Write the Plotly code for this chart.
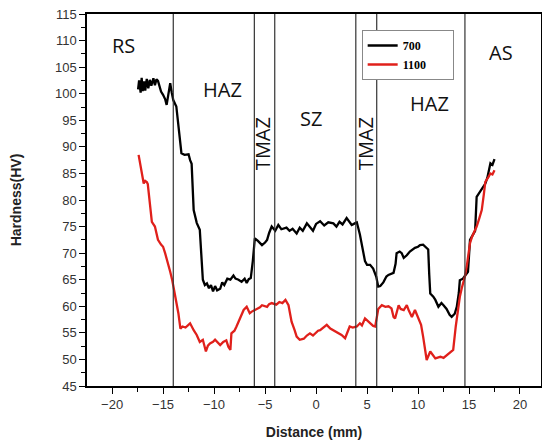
import plotly.graph_objects as go

# Series 700 (black)
x700 = [-17.45, -17.35, -17.2, -17.1, -17.0, -16.85, -16.75, -16.6, -16.45, -16.3, -16.15, -15.95,
        -15.8, -15.65, -15.5, -15.35, -15.2, -15.0, -14.8, -14.65, -14.5, -14.3, -14.15, -14.0,
        -13.7, -13.5, -13.3, -13.2, -12.9, -12.5, -12.35, -12.2, -12.0, -11.7, -11.4, -11.25,
        -11.1, -10.9, -10.7, -10.5, -10.3, -10.1, -9.9, -9.7, -9.4, -9.2, -9.0, -8.7, -8.4, -8.1,
        -7.9, -7.6, -7.3, -7.0, -6.8, -6.6, -6.4, -6.2, -6.0, -5.7, -5.3, -5.0, -4.8, -4.6,
        -4.35, -4.0, -3.7, -3.4, -3.2, -2.9, -2.6, -2.3, -1.9, -1.6, -1.3, -0.9, -0.6, -0.3,
        0.0, 0.4, 0.8, 1.2, 1.7, 2.0, 2.3, 2.6, 3.0, 3.3, 3.5, 3.8, 4.0, 4.3, 4.5, 4.8, 5.0,
        5.3, 5.6, 5.9, 6.1, 6.3, 6.6, 6.9, 7.1, 7.4, 7.6, 7.8, 7.9, 8.2, 8.4, 8.6, 8.9, 9.2,
        9.5, 9.7, 10.0, 10.2, 10.5, 10.7, 11.0, 11.1, 11.2, 11.5, 11.7, 12.0, 12.3, 12.5, 12.8,
        13.1, 13.3, 13.6, 13.8, 14.0, 14.1, 14.4, 14.6, 14.9, 15.1, 15.4, 15.6, 15.75, 16.0,
        16.25, 16.6, 16.8, 17.1, 17.3, 17.5]
y700 = [100.8, 102.5, 100.2, 103.0, 100.5, 102.3, 100.6, 102.8, 101.0, 102.6, 101.5, 102.9,
        101.6, 102.7, 102.4, 101.2, 100.4, 99.8, 99.0, 97.9, 99.5, 102.0, 100.2, 98.8,
        97.6, 94.5, 90.7, 88.8, 88.5, 88.6, 87.5, 86.8, 78.1, 75.7, 74.4, 69.0,
        65.0, 64.0, 64.3, 63.4, 64.0, 62.8, 63.8, 63.0, 63.3, 64.5, 64.0, 65.2, 65.0, 65.8,
        65.2, 65.0, 64.6, 65.2, 64.4, 65.1, 65.3, 68.5, 72.8, 72.3, 71.5, 72.0, 72.5, 73.8,
        75.0, 74.2, 75.3, 74.5, 74.6, 74.8, 74.2, 74.6, 73.7, 74.8, 74.2, 75.6, 74.9, 74.2,
        75.5, 76.0, 75.2, 75.8, 75.6, 75.0, 75.9, 75.4, 76.6, 75.8, 75.3, 75.6, 75.8, 73.5, 71.2,
        68.5, 67.8, 67.8, 67.1, 65.6, 63.7, 63.8, 64.5, 65.6, 65.9, 66.2, 66.3, 68.0, 70.0, 70.3,
        70.0, 69.1, 69.6, 70.3, 70.8, 71.0, 71.2, 71.5, 71.6, 71.3, 70.7, 66.0, 62.4, 61.8,
        61.2, 59.9, 60.6, 60.2, 59.5, 58.4, 58.0, 58.6, 59.9, 62.5, 64.9, 65.2, 65.7, 66.5,
        72.5, 73.7, 74.2, 80.6, 81.3, 81.9, 83.1, 84.2, 86.9, 86.6, 87.7]

# Series 1100 (red)
x1100 = [-17.4, -17.1, -16.9, -16.75, -16.6, -16.5, -16.3, -16.1, -15.8, -15.5, -15.2, -15.0,
         -14.8, -14.5, -14.3, -14.1, -13.8, -13.5, -13.3, -13.1, -12.8, -12.6, -12.35, -12.0,
         -11.7, -11.4, -11.1, -10.8, -10.6, -10.4, -10.1, -9.9, -9.6, -9.4, -9.1, -8.8, -8.6,
         -8.4, -8.3, -8.0, -7.8, -7.5, -7.1, -6.8, -6.5, -6.3, -6.0, -5.8, -5.5, -5.3, -4.8,
         -4.6, -4.35, -3.9, -3.6, -3.3, -3.0, -2.7, -2.4, -2.1, -1.9, -1.6, -1.2, -0.9, -0.6,
         -0.3, -0.1, 0.2, 0.4, 0.7, 1.05, 1.4, 1.7, 2.0, 2.2, 2.5, 2.85, 3.1, 3.3, 3.6, 4.0,
         4.3, 4.5, 4.8, 5.1, 5.3, 5.6, 5.8, 6.1, 6.45, 6.8, 7.1, 7.4, 7.6, 7.75, 8.1, 8.3,
         8.6, 8.9, 9.1, 9.4, 9.7, 10.0, 10.3, 10.5, 10.7, 10.85, 11.2, 11.5, 11.7, 12.0, 12.2,
         12.5, 12.8, 13.1, 13.45, 13.7, 13.9, 14.1, 14.3, 14.6, 14.8, 15.1, 15.3, 15.5, 15.75,
         16.0, 16.25, 16.45, 16.6, 16.9, 17.1, 17.3, 17.5]
y1100 = [88.5, 85.5, 83.1, 83.6, 83.4, 83.0, 79.0, 75.9, 75.0, 72.5, 71.6, 71.2,
         70.0, 68.1, 66.5, 64.9, 61.8, 58.7, 55.8, 56.2, 56.0, 56.3, 56.8, 55.5,
         54.6, 53.3, 53.7, 51.5, 52.6, 53.0, 53.3, 53.7, 53.0, 52.7, 53.3, 53.6, 52.4,
         51.8, 54.9, 55.4, 56.2, 57.4, 59.3, 59.9, 58.7, 59.0, 59.3, 59.6, 59.8, 60.2, 59.9,
         60.4, 60.6, 60.3, 60.8, 60.6, 61.2, 60.2, 57.1, 55.5, 54.3, 53.7, 53.9, 54.5, 54.9,
         54.5, 54.8, 55.4, 55.5, 55.9, 56.5, 55.8, 55.5, 55.2, 54.9, 54.6, 54.0, 55.2, 56.2,
         56.0, 56.2, 56.8, 56.4, 57.7, 57.2, 56.8, 56.3, 56.2, 59.5, 60.2, 59.9, 60.0, 59.6, 58.0,
         57.7, 60.2, 59.5, 59.3, 60.2, 59.2, 58.0, 59.3, 58.0, 56.5, 54.3, 52.0, 49.9, 51.5,
         50.8, 50.2, 50.4, 50.5, 50.3, 50.8, 51.2, 51.8, 56.2, 59.0, 61.8, 63.5, 65.6, 67.8,
         71.9, 73.1, 74.0, 75.0, 76.5, 78.1, 81.0, 83.4, 84.3, 85.0, 84.8, 85.6]

# Zone boundaries and labels
boundaries = [-14.0, -6.05, -4.05, 3.9, 5.95, 14.6]
zone_labels = ["RS", "HAZ", "TMAZ", "SZ", "TMAZ", "HAZ", "AS"]
zone_x = [-18.9, -9.2, -5.3, -0.5, 4.8, 11.1, 18.1]
zone_y = [109.0, 100.7, 90.7, 95.4, 90.7, 98.2, 107.7]
zone_angle = [0, 0, -90, 0, -90, 0, 0]

series_names = ["700", "1100"]
pad = "&nbsp;" * 7

fig = go.Figure()
fig.add_trace(go.Scatter(x=x700, y=y700, mode="lines", name="<b>" + series_names[0] + "</b>" + pad,
                         line=dict(color="black", width=2.3)))
fig.add_trace(go.Scatter(x=x1100, y=y1100, mode="lines", name="<b>" + series_names[1] + "</b>" + pad,
                         line=dict(color="#e0201b", width=2.3)))

for b in boundaries:
    fig.add_shape(type="line", xref="x", yref="paper", x0=b, x1=b, y0=0, y1=1,
                  line=dict(color="#333333", width=1.2))

for t, xx, yy, ang in zip(zone_labels, zone_x, zone_y, zone_angle):
    fig.add_annotation(x=xx, y=yy, text=t, showarrow=False, textangle=ang,
                       font=dict(family="Open Sans, Liberation Sans, sans-serif", size=20, color="#111111"))

axis_common = dict(showline=True, linecolor="black", linewidth=1.5, mirror=True,
                   ticks="outside", tickcolor="black", ticklen=6, tickwidth=1.2,
                   showgrid=False, zeroline=False, automargin=False,
                   tickfont=dict(family="Liberation Sans, Arial, sans-serif", size=13, color="#333333"))

fig.update_xaxes(range=[-22.46, 22.06], tickmode="array", tickvals=[-20, -15, -10, -5, 0, 5, 10, 15, 20],
                 minor=dict(ticks="outside", ticklen=4, tickcolor="black", dtick=2.5, tick0=-22.5),
                 title=dict(text="<b>Distance (mm)</b>", standoff=16,
                            font=dict(family="Liberation Sans, Arial, sans-serif", size=14, color="#222222")),
                 **axis_common)
fig.update_yaxes(range=[45, 115], dtick=5,
                 minor=dict(ticks="outside", ticklen=4, tickcolor="black", dtick=2.5),
                 title=dict(text="<b>Hardness(HV)</b>", standoff=30,
                            font=dict(family="Liberation Sans, Arial, sans-serif", size=14, color="#222222")),
                 **axis_common)

fig.update_layout(
    width=542, height=441,
    margin=dict(l=87, r=1, t=14, b=55, autoexpand=False),
    paper_bgcolor="white", plot_bgcolor="white",
    showlegend=True,
    legend=dict(x=0.605, y=0.957, xanchor="left", yanchor="top",
                bgcolor="white", bordercolor="#888888", borderwidth=1,
                font=dict(family="Liberation Serif, Times New Roman, serif", size=12, color="black"),
                itemwidth=30, tracegroupgap=0),
)

# remove the default 8px page margin so the figure fills the window exactly
fig.write_html("out.html", config={"displayModeBar": False},
               post_script="document.body.style.margin='0';document.body.style.overflow='hidden';")
